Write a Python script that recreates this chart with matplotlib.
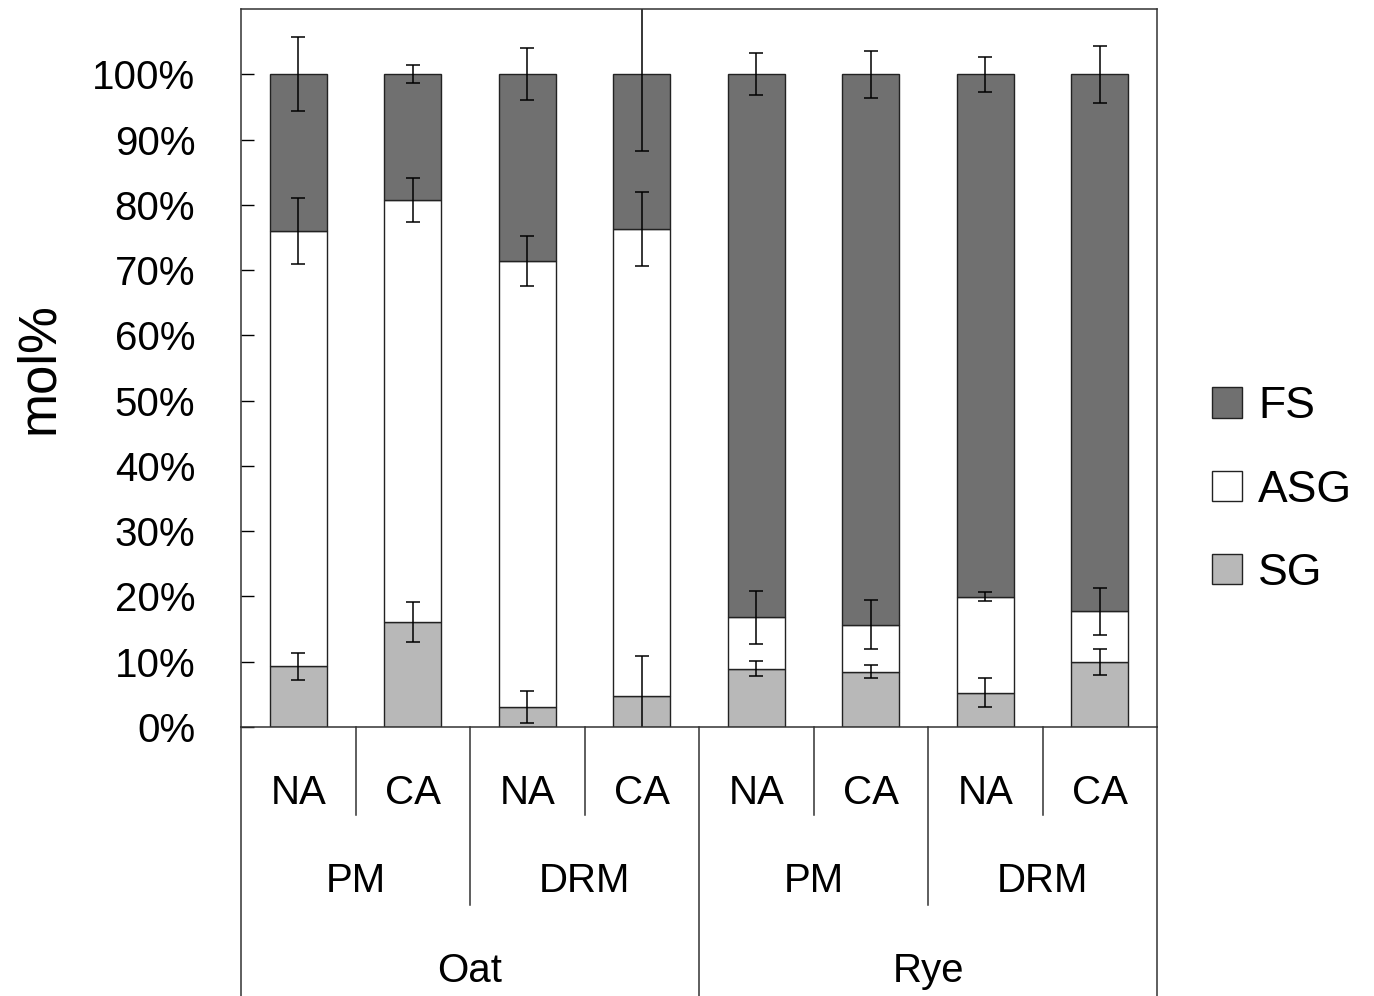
import matplotlib
matplotlib.use("Agg")
import matplotlib.pyplot as plt
from matplotlib.patches import Patch

plt.rcParams['font.family'] = ['Liberation Sans', 'DejaVu Sans']

# data (mol%)
treatments = ["NA", "CA", "NA", "CA", "NA", "CA", "NA", "CA"]
fractions = ["PM", "DRM", "PM", "DRM"]
species = ["Oat", "Rye"]

sg = [9.3, 16.1, 3.1, 4.75, 8.9, 8.5, 5.25, 9.95]
asg = [66.7, 64.6, 68.3, 71.55, 7.9, 7.2, 14.7, 7.75]
fs = [24.0, 19.3, 28.6, 23.7, 83.2, 84.3, 80.05, 82.3]

sg_err = [2.1, 3.1, 2.45, 6.2, 1.15, 1.0, 2.25, 1.95]
asg_err = [5.0, 3.4, 3.8, 5.7, 4.1, 3.8, 0.7, 3.55]
fs_err = [5.7, 1.4, 4.0, 11.8, 3.2, 3.6, 2.7, 4.4]

c_fs = "#707070"
c_asg = "#ffffff"
c_sg = "#b8b8b8"
edge = "#222222"

W, H = 1374, 996
fig = plt.figure(figsize=(W / 100, H / 100), dpi=100)
ax = fig.add_axes([241 / W, (H - 727) / H, (1157 - 241) / W, (727 - 9) / H])

x = list(range(len(sg)))
bot_asg = sg
bot_fs = [a + b for a, b in zip(sg, asg)]
top = [a + b for a, b in zip(bot_fs, fs)]

ax.bar(x, sg, 0.5, color=c_sg, edgecolor=edge, linewidth=1.0)
ax.bar(x, asg, 0.5, bottom=bot_asg, color=c_asg, edgecolor=edge, linewidth=1.0)
ax.bar(x, fs, 0.5, bottom=bot_fs, color=c_fs, edgecolor=edge, linewidth=1.0)

ekw = dict(fmt="none", ecolor="black", elinewidth=1.1, capsize=5, capthick=1.1)
ax.errorbar(x, sg, yerr=sg_err, **ekw)
ax.errorbar(x, bot_fs, yerr=asg_err, **ekw)
ax.errorbar(x, top, yerr=fs_err, **ekw)

ax.set_xlim(-0.5, 7.5)
ax.set_ylim(0, 110)
ax.set_yticks(range(0, 101, 10))
ax.set_yticklabels([f"{v}%" for v in range(0, 101, 10)])
ax.tick_params(axis="y", direction="in", length=9.5, width=1, pad=33, labelsize=29)
ax.set_xticks([])
for s in ax.spines.values():
    s.set_linewidth(1.1)
    s.set_color("#333333")

ax.set_ylabel("mol%", fontsize=38, labelpad=0)
ax.yaxis.set_label_coords(-0.193, 0.5)

# category table under the axis
tr = ax.get_xaxis_transform()
lkw = dict(color="#333333", linewidth=1.1, transform=tr, clip_on=False)
for b in [0.5, 2.5, 4.5, 6.5]:
    ax.plot([b, b], [0, -0.1226], **lkw)
for b in [1.5, 5.5]:
    ax.plot([b, b], [0, -0.248], **lkw)
for b in [-0.5, 3.5, 7.5]:
    ax.plot([b, b], [0, -0.38], **lkw)

for i, t in enumerate(treatments):
    ax.text(i, -0.092, t, transform=tr, ha="center", va="center", fontsize=29)
for i, f in enumerate(fractions):
    ax.text(2 * i + 0.5, -0.214, f, transform=tr, ha="center", va="center", fontsize=29)
for i, s in enumerate(species):
    ax.text(4 * i + 1.5, -0.340, s, transform=tr, ha="center", va="center", fontsize=29)

handles = [Patch(facecolor=c_fs, edgecolor=edge),
           Patch(facecolor=c_asg, edgecolor=edge),
           Patch(facecolor=c_sg, edgecolor=edge)]
fig.legend(handles, ["FS", "ASG", "SG"], loc="center left",
           bbox_to_anchor=(1194 / W, (H - 490) / H), frameon=False, fontsize=32,
           handlelength=0.68, handleheight=0.68, handletextpad=0.36,
           labelspacing=0.95, borderaxespad=0)

fig.savefig("out.png", dpi=100)
